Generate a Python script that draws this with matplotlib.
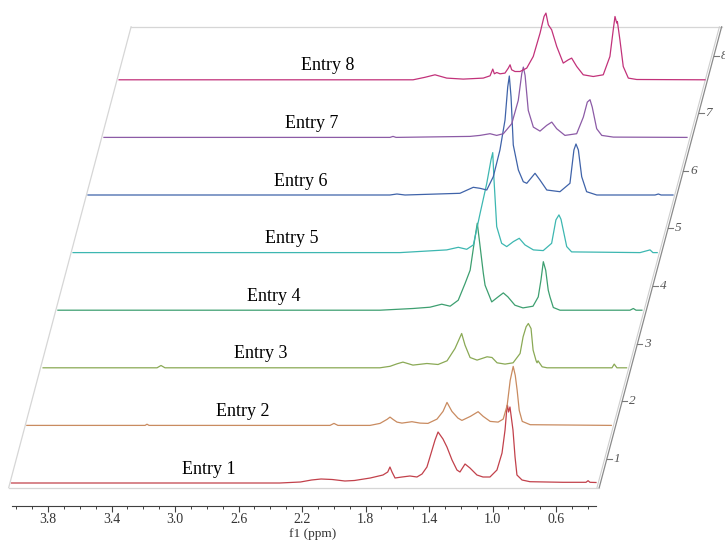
import matplotlib
matplotlib.use('Agg')
import matplotlib.pyplot as plt
from matplotlib.transforms import Affine2D
from matplotlib.ticker import FixedLocator, MultipleLocator, FormatStrFormatter

# stacked 1H NMR spectra, intensities in arbitrary units
entry_names = ['Entry 1', 'Entry 2', 'Entry 3', 'Entry 4',
               'Entry 5', 'Entry 6', 'Entry 7', 'Entry 8']
entry_colors = ['#c2414b', '#c98b60', '#8aa955', '#3d9f70',
                '#3db7b1', '#3f63a9', '#8c5ba6', '#c2327a']
label_ppm = [2.79, 2.67, 2.65, 2.67, 2.65, 2.69, 2.72, 2.71]

entry1_ppm = [4.03, 2.34, 2.21, 2.14, 2.08, 2.01, 1.93, 1.87, 1.77, 1.69,
              1.66, 1.646, 1.633, 1.614, 1.57, 1.52, 1.476, 1.444, 1.413, 1.394,
              1.362, 1.343, 1.312, 1.287, 1.255, 1.224, 1.205, 1.173, 1.142, 1.098,
              1.060, 1.016, 0.972, 0.940, 0.921, 0.909, 0.906, 0.899, 0.890, 0.871,
              0.858, 0.846, 0.814, 0.764, 0.556, 0.411, 0.398, 0.386, 0.348]
entry1_int = [0, 0, 1, 3, 4, 3.5, 2, 2.5, 5, 8,
              11, 16, 11, 5, 6, 7, 6, 9, 16, 26,
              43, 51, 44, 36, 23, 13, 11, 19, 15, 8,
              6, 6, 13, 30, 53, 76, 78, 71, 76, 53,
              26, 8, 3, 1.3, 0.7, 0.7, 2.3, 0.7, 0.5]

entry2_ppm = [4.03, 3.285, 3.273, 3.26, 2.12, 2.095, 2.07, 1.868, 1.805, 1.761,
              1.742, 1.723, 1.698, 1.667, 1.604, 1.553, 1.503, 1.446, 1.408, 1.383,
              1.352, 1.314, 1.289, 1.236, 1.187, 1.155, 1.111, 1.061, 1.029, 1.004,
              0.985, 0.966, 0.953, 0.941, 0.928, 0.909, 0.859, 0.348]
entry2_int = [0, 0, 1.2, 0, 0, 2, 0, 0, 2, 6,
              8.3, 6, 3.3, 2.3, 3.7, 2.3, 2, 6.3, 14, 23,
              14, 7.3, 5, 9, 13.7, 9, 4, 3.3, 6.3, 20,
              45, 59, 50, 35, 15, 4, 0.7, 0]

entry3_ppm = [4.024, 3.306, 3.281, 3.256, 1.902, 1.838, 1.794, 1.757, 1.694, 1.606,
              1.536, 1.479, 1.429, 1.387, 1.366, 1.334, 1.290, 1.227, 1.196, 1.164,
              1.114, 1.063, 1.019, 1.000, 0.981, 0.967, 0.950, 0.937, 0.918, 0.912,
              0.906, 0.880, 0.849, 0.44, 0.426, 0.409, 0.348]
entry3_int = [0, 0, 2.3, 0, 0, 1.5, 4, 5.7, 2.7, 4.3,
              3.3, 7, 19.3, 34.3, 22.7, 10.3, 7.7, 11, 10.3, 5,
              3.7, 5, 14.3, 31, 41, 44.3, 39.3, 17.7, 7, 5,
              7, 1, 0, 0, 3.7, 0, 0]

entry4_ppm = [4.027, 1.998, 1.790, 1.683, 1.609, 1.556, 1.505, 1.462, 1.430, 1.405,
              1.385, 1.372, 1.347, 1.336, 1.294, 1.254, 1.221, 1.192, 1.148, 1.097,
              1.034, 1.001, 0.984, 0.969, 0.954, 0.938, 0.927, 0.906, 0.864, 0.423,
              0.402, 0.385, 0.348]
entry4_int = [0, 0, 1.7, 3, 6, 4, 10, 26.7, 40, 67,
              87, 70, 37, 25, 8.3, 13.3, 17.3, 13.3, 5, 2.3,
              4, 13.3, 30, 48.5, 40, 20, 13.3, 2.7, 0, 0,
              1.7, 0, 0]

entry5_ppm = [4.028, 1.968, 1.674, 1.601, 1.548, 1.506, 1.464, 1.422, 1.395, 1.384,
              1.376, 1.359, 1.328, 1.296, 1.254, 1.217, 1.181, 1.128, 1.066, 1.013,
              0.986, 0.967, 0.954, 0.940, 0.918, 0.887, 0.456, 0.393, 0.375, 0.348]
entry5_int = [0, 0, 2.7, 5.3, 3.3, 7.7, 39, 69, 92.7, 100,
              72.7, 26, 9.3, 6, 11, 14.3, 7.7, 2.7, 2, 9.3,
              32.7, 37.7, 33.3, 22.7, 6, 0.7, 0, 2.7, 0, 0]

entry6_ppm = [4.03, 2.128, 2.084, 2.033, 1.687, 1.603, 1.561, 1.518, 1.477, 1.435,
              1.403, 1.386, 1.376, 1.365, 1.351, 1.319, 1.288, 1.266, 1.214, 1.183,
              1.140, 1.057, 0.994, 0.969, 0.956, 0.941, 0.920, 0.889, 0.825, 0.458,
              0.437, 0.420, 0.345]
entry6_int = [0, 0, 1, 0, 1.7, 7.7, 6.7, 5, 18.3, 45,
              75, 108, 119, 98, 50, 25, 13.3, 11.7, 21.7, 15,
              5, 3.3, 11.7, 45, 51, 45, 18.3, 3.3, 0, 0,
              1, 0, 0]

entry7_ppm = [4.026, 2.224, 2.205, 2.186, 1.72, 1.657, 1.594, 1.552, 1.510, 1.457,
              1.416, 1.394, 1.384, 1.373, 1.353, 1.321, 1.279, 1.237, 1.205, 1.174,
              1.122, 1.048, 1.006, 0.981, 0.964, 0.950, 0.922, 0.890, 0.817, 0.353]
entry7_int = [0, 0, 1, 0, 1, 2, 3.7, 2, 3.7, 13.7,
              37, 63.7, 70.3, 62, 27, 10.3, 6.3, 12, 15.3, 8.7,
              2, 3.7, 20.3, 35.3, 37.7, 30.3, 8.7, 2, 0.3, 0]

entry8_ppm = [4.027, 2.175, 2.10, 2.037, 1.963, 1.859, 1.733, 1.690, 1.673, 1.663,
              1.648, 1.627, 1.596, 1.575, 1.564, 1.554, 1.533, 1.501, 1.459, 1.418,
              1.375, 1.350, 1.338, 1.323, 1.302, 1.270, 1.229, 1.197, 1.176, 1.144,
              1.103, 1.040, 0.977, 0.935, 0.914, 0.903, 0.892, 0.888, 0.872, 0.851,
              0.819, 0.766, 0.336]
entry8_int = [0, 0, 2.5, 5, 1.7, 0.7, 1.7, 4, 10.7, 6,
              7.3, 6, 6.7, 11.7, 15, 10, 8.3, 8.3, 11.7, 23.3,
              46.7, 63.3, 66.7, 55, 50, 33.3, 16.7, 20, 21.7, 13.3,
              5, 3.3, 5, 23.3, 50, 63.3, 56.7, 58.3, 40, 13.3,
              1.7, 0.3, 0]

spectra_ppm = [entry1_ppm, entry2_ppm, entry3_ppm, entry4_ppm,
               entry5_ppm, entry6_ppm, entry7_ppm, entry8_ppm]
spectra_int = [entry1_int, entry2_int, entry3_int, entry4_int,
               entry5_int, entry6_int, entry7_int, entry8_int]

xticks_major = [3.8, 3.4, 3.0, 2.6, 2.2, 1.8, 1.4, 1.0, 0.6]
depth_labels = ['1', '2', '3', '4', '5', '6', '7', '8']

# stacking geometry: each trace moves right (in ppm) and up (in intensity units)
STEP_PPM = 15.3 / 158.75
STEP_Y = 57.6
TICK_SHIFT = 0.42

fig = plt.figure(figsize=(7.25, 5.4), dpi=100)
ax = fig.add_axes([12 / 725, 34 / 540, 584 / 725, 506 / 540])
ax.set_xlim(4.027, 0.348)
ax.set_ylim(-23, 483)
ax.patch.set_visible(False)

# (ppm, depth) -> oblique frame coordinates
skew = Affine2D.from_values(1, 0, -STEP_PPM, STEP_Y, 0, 0) + ax.transData

# frame of the stacked plot
x_left, x_right = 4.04, 0.32
d_low, d_high = -0.08, 7.92
frame_col = '#d6d6d6'
ax.plot([x_left, x_right], [d_low, d_low], transform=skew, color=frame_col, lw=0.9, clip_on=False)
ax.plot([x_left, x_right], [d_high, d_high], transform=skew, color=frame_col, lw=0.9, clip_on=False)
ax.plot([x_left, x_left], [d_low, d_high], transform=skew, color=frame_col, lw=0.9, clip_on=False)
ax.plot([x_right + 0.014, x_right + 0.014], [d_low, d_high], transform=skew,
        color='#cfcfcf', lw=0.8, clip_on=False)
ax.plot([x_right, x_right], [d_low, d_high], transform=skew, color='#8a8a8a', lw=0.9, clip_on=False)

# depth axis ticks and labels
for k, lab in enumerate(depth_labels):
    d = k + TICK_SHIFT
    ax.plot([x_right, x_right - 5 / 158.75], [d, d], transform=skew,
            color='#777777', lw=0.8, clip_on=False)
    ax.text(x_right - 7 / 158.75, d, lab, transform=skew, ha='left', va='center',
            fontsize=9.5, style='italic', color='#555555', family='Liberation Serif')

# spectra
for i in range(len(entry_names)):
    tr = Affine2D().translate(-i * STEP_PPM, i * STEP_Y) + ax.transData
    ax.plot(spectra_ppm[i], spectra_int[i], transform=tr, color=entry_colors[i],
            lw=0.9, clip_on=False, zorder=3)
    ax.text(label_ppm[i], 14, entry_names[i], transform=tr, ha='center', va='center',
            fontsize=13, family='Liberation Serif', color='black', zorder=4)

# bottom ppm axis
for side in ['left', 'right', 'top']:
    ax.spines[side].set_visible(False)
ax.spines['bottom'].set_color('#404040')
ax.spines['bottom'].set_linewidth(0.8)
ax.set_yticks([])
ax.xaxis.set_major_locator(FixedLocator(xticks_major))
ax.xaxis.set_minor_locator(MultipleLocator(0.1))
ax.xaxis.set_major_formatter(FormatStrFormatter('%.1f'))
ax.tick_params(axis='x', which='major', length=4, width=0.8, color='#404040',
               labelsize=10, pad=1, labelcolor='#333333')
ax.tick_params(axis='x', which='minor', length=2.5, width=0.7, color='#404040')
for t in ax.get_xticklabels():
    t.set_family('Liberation Serif')
ax.set_xlabel('f1 (ppm)', fontsize=9.5, family='Liberation Serif', color='#333333')
ax.xaxis.set_label_coords(0.515, -0.043)

fig.savefig('out.png', dpi=100)
